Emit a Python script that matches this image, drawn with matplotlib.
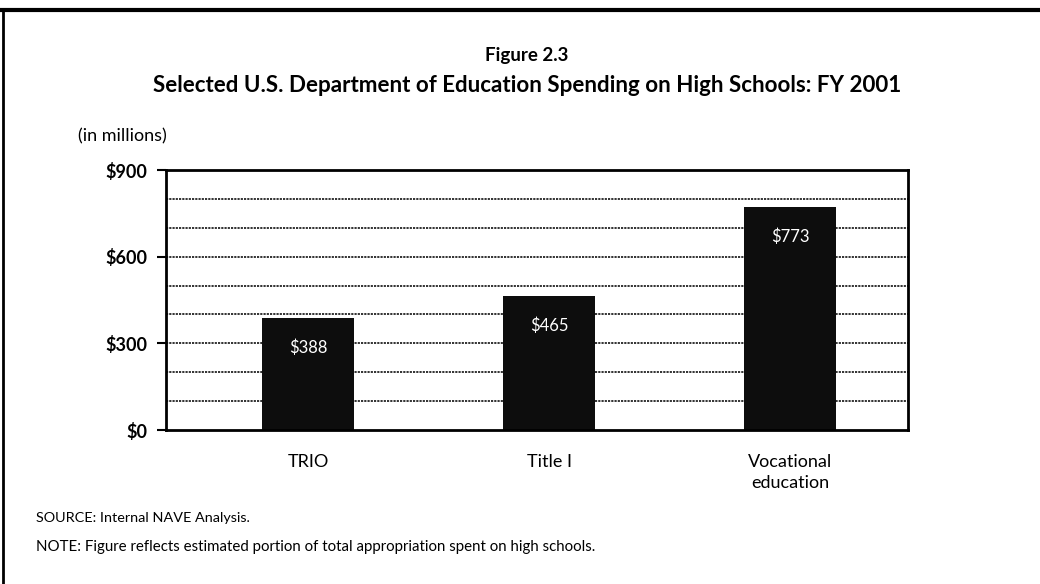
import matplotlib
matplotlib.use("Agg")
import matplotlib.pyplot as plt
import numpy as np

# data
categories = ["TRIO", "Title I", "Vocational\neducation"]
spending = [388, 465, 773]
bar_labels = ["$388", "$465", "$773"]
yticks = [0, 300, 600, 900]
ytick_labels = ["$0", "$300", "$600", "$900"]
grid_levels = [100, 200, 300, 400, 500, 600, 700, 800]

plt.rcParams['font.family'] = ['Lato', 'DejaVu Sans']

fig = plt.figure(figsize=(10.4, 5.84), dpi=100)
ax = fig.add_axes([166/1040, 1 - 430/584, 742/1040, 260/584])

x = np.arange(len(categories))
for g in grid_levels:
    ax.axhline(g, color="#222222", lw=1.3, ls=(0, (1.2, 0.6)), zorder=1)
bars = ax.bar(x, spending, width=0.38, color="#0d0d0d", zorder=2)

for b, lab in zip(bars, bar_labels):
    ax.annotate(lab, (b.get_x() + b.get_width() / 2, b.get_height()),
                xytext=(0, -30), textcoords="offset pixels",
                ha="center", va="center", color="white", fontsize=12)

ax.set_xlim(-0.59, 2.49)
ax.set_ylim(0, 900)
ax.set_yticks(yticks)
ax.set_yticklabels(ytick_labels, fontsize=13, fontweight="bold")
ax.set_xticks(x)
ax.set_xticklabels(categories, fontsize=13, linespacing=1.4, va="top")
ax.tick_params(axis="x", length=0, pad=17)
ax.tick_params(axis="y", length=6.5, width=1.5, pad=7, direction="out")
for s in ax.spines.values():
    s.set_linewidth(2)
    s.set_color("black")

fig.text(527/1040, 1 - 55/584, "Figure 2.3", ha="center", va="center",
         fontsize=13.5, fontweight="bold")
fig.text(527/1040, 1 - 85/584,
         "Selected U.S. Department of Education Spending on High Schools: FY 2001",
         ha="center", va="center", fontsize=16.1, fontweight="bold")
fig.text(78/1040, 1 - 136/584, "(in millions)", ha="left", va="center", fontsize=13)
fig.text(36/1040, 1 - 518/584, "SOURCE: Internal NAVE Analysis.", ha="left",
         va="center", fontsize=10.4)
fig.text(36/1040, 1 - 547/584,
         "NOTE: Figure reflects estimated portion of total appropriation spent on high schools.",
         ha="left", va="center", fontsize=10.8)

# frame on top and left edges
fig.add_artist(plt.Line2D([0, 1], [1 - 10/584, 1 - 10/584], color="black", lw=3,
                          transform=fig.transFigure))
fig.add_artist(plt.Line2D([3/1040, 3/1040], [0, 1 - 10/584], color="black", lw=2,
                          transform=fig.transFigure))

fig.savefig("out.png", dpi=100)
